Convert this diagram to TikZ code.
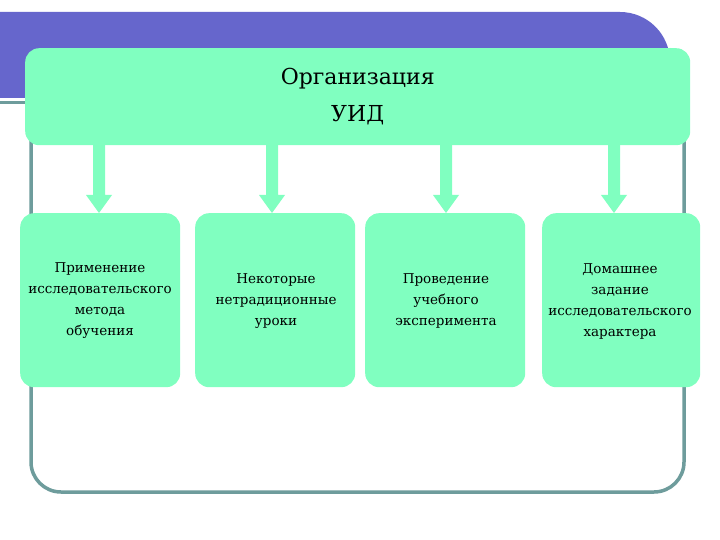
\documentclass[tikz,border=0pt]{standalone}
\usepackage{fontspec}
\setmainfont{DejaVu Serif}
\definecolor{mint}{HTML}{80FFC0}
\definecolor{band}{HTML}{6666CC}
\definecolor{frame}{HTML}{6E9C9C}
\begin{document}
\begin{tikzpicture}[x=1pt,y=-1pt,
  box/.style={fill=mint,rounded corners=14pt},
  lbl/.style={font=\fontsize{13.5}{21}\selectfont,align=center,text=black},
  arr/.style={fill=mint}]
\useasboundingbox (0,0) rectangle (720,540);
\fill[white] (0,0) rectangle (720,540);
% purple band
\fill[band,rounded corners=50pt] (0,12) -- (670,12) -- (670,98) [sharp corners] -- (0,98) -- cycle;
\fill[band] (0,12) rectangle (100,98);
\fill[frame] (0,101) rectangle (26,104);
% frame
\draw[frame,line width=3.5pt,rounded corners=30pt] (31,140) -- (31,492) -- (684,492) -- (684,140);
% top box
\node[box,minimum width=665pt,minimum height=97pt,anchor=north west,inner sep=0] (top) at (25,48) {};
\node[font=\fontsize{22}{37}\selectfont,align=center] (toptext) at (top.center) {Организация\\УИД};
% boxes
\node[box,anchor=north west,minimum width=160pt,minimum height=174pt,inner sep=0] (b1) at (20,213) {};
\node[box,anchor=north west,minimum width=160pt,minimum height=174pt,inner sep=0] (b2) at (195,213) {};
\node[box,anchor=north west,minimum width=160pt,minimum height=174pt,inner sep=0] (b3) at (365,213) {};
\node[box,anchor=north west,minimum width=158pt,minimum height=174pt,inner sep=0] (b4) at (542,213) {};
\node[lbl] (t1) at (100,301) {Применение\\исследовательского\\метода\\обучения};
\node[lbl] (t2) at (276,301) {Некоторые\\нетрадиционные\\уроки};
\node[lbl] (t3) at (446,301) {Проведение\\учебного\\эксперимента};
\node[lbl] (t4) at (620,301) {Домашнее\\задание\\исследовательского\\характера};
% arrows
\foreach \x/\n in {99/1,272/2,446/3,614/4}{
  \fill[arr] (\x-6,145) -- (\x+6,145) -- (\x+6,195) -- (\x+13,195) -- (\x,213) -- (\x-13,195) -- (\x-6,195) -- cycle;
}
\end{tikzpicture}
\end{document}
